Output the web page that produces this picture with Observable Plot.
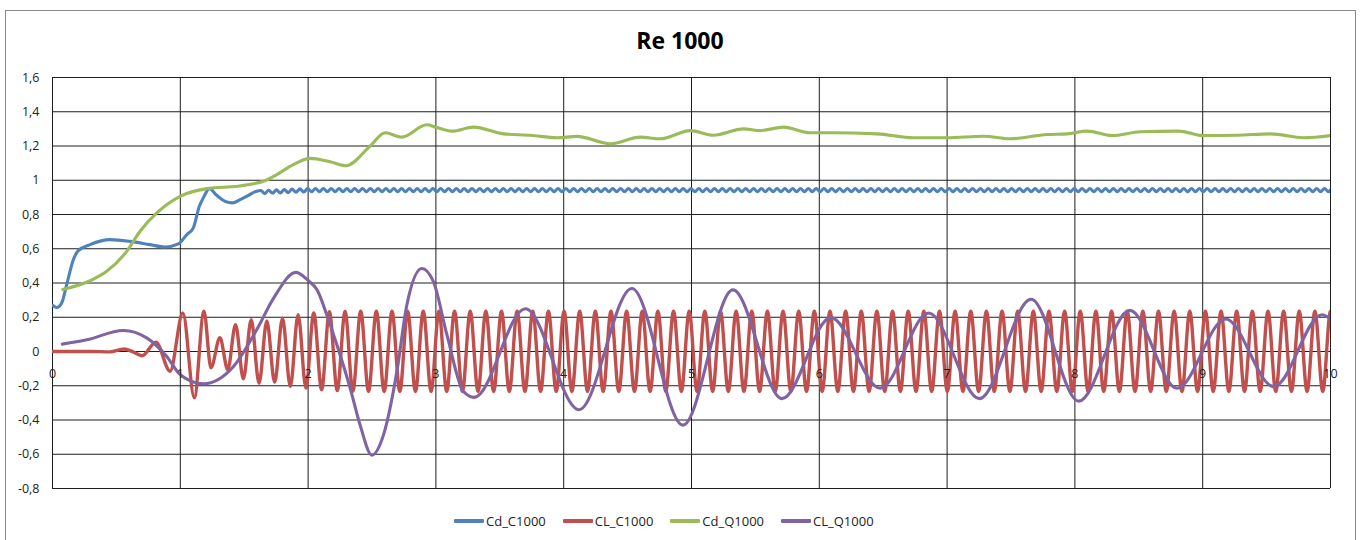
<!DOCTYPE html>
<html>
<head>
<meta charset="utf-8">
<script src="https://cdn.jsdelivr.net/npm/d3@7"></script>
<script src="https://cdn.jsdelivr.net/npm/@observablehq/plot@0.6"></script>
<style>
  body { margin: 0; background: #fff; }
  #chart { position: relative; width: 1360px; height: 540px; overflow: hidden; font-family: "Open Sans", sans-serif; }
  #frame { position: absolute; left: 5px; top: 10px; width: 1351px; height: 600px; border: 1px solid #8a8a8a; box-sizing: border-box; }
  #plot { position: absolute; left: 0; top: 0; }
  #title { position: absolute; left: 0; top: 24px; width: 1360px; text-align: center; font-weight: 700; font-size: 23px; line-height: 32px; color: #000; }
  #legend { position: absolute; left: 454px; top: 511px; display: flex; gap: 17px; font-size: 13px; line-height: 20px; color: #222; }
  .item { display: flex; align-items: center; gap: 2px; }
  .swatch { width: 30px; height: 3.5px; border-radius: 1px; }
</style>
</head>
<body>
<div id="chart">
  <div id="frame"></div>
  <div id="plot"></div>
  <div id="title">Re 1000</div>
  <div id="legend"></div>
</div>
<script>
// Series names and colours
const seriesNames = ["Cd_C1000", "CL_C1000", "Cd_Q1000", "CL_Q1000"];
const seriesColors = ["#4f81bd", "#c0504d", "#9bbb59", "#8064a2"];

// Axis ticks
const xTicks = [0, 1, 2, 3, 4, 5, 6, 7, 8, 9, 10];
const yTicks = [-0.8, -0.6, -0.4, -0.2, 0, 0.2, 0.4, 0.6, 0.8, 1, 1.2, 1.4, 1.6];

// Cd_C1000: start-up transient as [t, value] pairs
const cdC1000Start = [
  [0, 0.27], [0.033, 0.257], [0.072, 0.283], [0.111, 0.39], [0.163, 0.536], [0.202, 0.589],
  [0.294, 0.624], [0.45, 0.653], [0.607, 0.643], [0.763, 0.624], [0.881, 0.61], [0.985, 0.628],
  [1.05, 0.682], [1.102, 0.722], [1.149, 0.848], [1.18, 0.897], [1.228, 0.951], [1.285, 0.912],
  [1.35, 0.877], [1.41, 0.868], [1.468, 0.887], [1.533, 0.912], [1.598, 0.936]
];
// Cd_C1000: periodic part, extrema sampled every half cycle from t0
const cdC1000T0 = 1.63, cdC1000Dt = 0.0306;
const cdC1000Peaks = [
  0.94, 0.922, 0.942, 0.924, 0.944, 0.926, 0.945, 0.928, 0.948, 0.93, 0.95, 0.931, 0.952,
  0.933, 0.952, 0.933, 0.952, 0.933, 0.952, 0.933, 0.952, 0.933, 0.952, 0.933, 0.952, 0.933, 0.952, 0.933, 0.952, 0.933, 0.952, 0.933, 0.952,
  0.933, 0.952, 0.933, 0.952, 0.933, 0.952, 0.933, 0.952, 0.933, 0.952, 0.933, 0.952, 0.933, 0.952, 0.933, 0.952, 0.933, 0.952, 0.933, 0.952,
  0.933, 0.952, 0.933, 0.952, 0.933, 0.952, 0.933, 0.952, 0.933, 0.952, 0.933, 0.952, 0.933, 0.952, 0.933, 0.952, 0.933, 0.952, 0.933, 0.952,
  0.933, 0.952, 0.933, 0.952, 0.933, 0.952, 0.933, 0.952, 0.933, 0.952, 0.933, 0.952, 0.933, 0.952, 0.933, 0.952, 0.933, 0.952, 0.933, 0.952,
  0.933, 0.952, 0.933, 0.952, 0.933, 0.952, 0.933, 0.952, 0.933, 0.952, 0.933, 0.952, 0.933, 0.952, 0.933, 0.952, 0.933, 0.952, 0.933, 0.952,
  0.933, 0.952, 0.933, 0.952, 0.933, 0.952, 0.933, 0.952, 0.933, 0.952, 0.933, 0.952, 0.933, 0.952, 0.933, 0.952, 0.933, 0.952, 0.933, 0.952,
  0.933, 0.952, 0.933, 0.952, 0.933, 0.952, 0.933, 0.952, 0.933, 0.952, 0.933, 0.952, 0.933, 0.952, 0.933, 0.952, 0.933, 0.952, 0.933, 0.952,
  0.933, 0.952, 0.933, 0.952, 0.933, 0.952, 0.933, 0.952, 0.933, 0.952, 0.933, 0.952, 0.933, 0.952, 0.933, 0.952, 0.933, 0.952, 0.933, 0.952,
  0.933, 0.952, 0.933, 0.952, 0.933, 0.952, 0.933, 0.952, 0.933, 0.952, 0.933, 0.952, 0.933, 0.952, 0.933, 0.952, 0.933, 0.952, 0.933, 0.952,
  0.933, 0.952, 0.933, 0.952, 0.933, 0.952, 0.933, 0.952, 0.933, 0.952, 0.933, 0.952, 0.933, 0.952, 0.933, 0.952, 0.933, 0.952, 0.933, 0.952,
  0.933, 0.952, 0.933, 0.952, 0.933, 0.952, 0.933, 0.952, 0.933, 0.952, 0.933, 0.952, 0.933, 0.952, 0.933, 0.952, 0.933, 0.952, 0.933, 0.952,
  0.933, 0.952, 0.933, 0.952, 0.933, 0.952, 0.933, 0.952, 0.933, 0.952, 0.933, 0.952, 0.933, 0.952, 0.933, 0.952, 0.933, 0.952, 0.933, 0.952,
  0.933, 0.952, 0.933, 0.952, 0.933, 0.952, 0.933, 0.952, 0.933, 0.952, 0.933, 0.952, 0.933, 0.952, 0.933, 0.952, 0.933, 0.952, 0.933, 0.952,
  0.933, 0.952, 0.933, 0.952, 0.933, 0.952, 0.933, 0.952
];

// CL_C1000: start-up transient as [t, value] pairs
const clC1000Start = [
  [0, 0], [0.3, 0], [0.45, -0.002], [0.56, 0.015], [0.63, -0.002], [0.7, -0.025], [0.81, 0.055],
  [0.92, -0.115], [1.02, 0.225], [1.11, -0.27], [1.185, 0.235], [1.24, -0.095]
];
// CL_C1000: shedding cycle, extrema sampled every half cycle from t0
const clC1000T0 = 1.31, clC1000Dt = 0.0612;
const clC1000Peaks = [
  0.08, -0.105, 0.156, -0.16, 0.185, -0.185, 0.178, -0.18, 0.195, -0.205, 0.215, -0.214, 0.225, -0.224, 0.232, -0.228, 0.234, -0.232,
  0.236, -0.234, 0.236, -0.234, 0.236, -0.234, 0.236, -0.234, 0.236, -0.234, 0.236, -0.234, 0.236, -0.234, 0.236, -0.234, 0.236, -0.234, 0.236, -0.234,
  0.236, -0.234, 0.236, -0.234, 0.236, -0.234, 0.236, -0.234, 0.236, -0.234, 0.236, -0.234, 0.236, -0.234, 0.236, -0.234, 0.236, -0.234, 0.236, -0.234,
  0.236, -0.234, 0.236, -0.234, 0.236, -0.234, 0.236, -0.234, 0.236, -0.234, 0.236, -0.234, 0.236, -0.234, 0.236, -0.234, 0.236, -0.234, 0.236, -0.234,
  0.236, -0.234, 0.236, -0.234, 0.236, -0.234, 0.236, -0.234, 0.236, -0.234, 0.236, -0.234, 0.236, -0.234, 0.236, -0.234, 0.236, -0.234, 0.236, -0.234,
  0.236, -0.234, 0.236, -0.234, 0.236, -0.234, 0.236, -0.234, 0.236, -0.234, 0.236, -0.234, 0.236, -0.234, 0.236, -0.234, 0.236, -0.234, 0.236, -0.234,
  0.236, -0.234, 0.236, -0.234, 0.236, -0.234, 0.236, -0.234, 0.236, -0.234, 0.236, -0.234, 0.236, -0.234, 0.236, -0.234, 0.236, -0.234, 0.236, -0.234,
  0.236, -0.234, 0.236, -0.234, 0.236, -0.234, 0.236, -0.234, 0.236, -0.234, 0.236, -0.234, 0.236, -0.234, 0.236, -0.234
];

// Cd_Q1000 as [t, value] pairs
const cdQ1000 = [
  [0.08, 0.362], [0.294, 0.413], [0.424, 0.468], [0.581, 0.585], [0.685, 0.702], [0.816, 0.809],
  [0.998, 0.906], [1.207, 0.951], [1.45, 0.965], [1.572, 0.979], [1.65, 0.994], [1.755, 1.033],
  [1.88, 1.09], [2.016, 1.128], [2.172, 1.108], [2.295, 1.085], [2.485, 1.199], [2.603, 1.277],
  [2.733, 1.252], [2.929, 1.324], [3.0, 1.31], [3.125, 1.287], [3.294, 1.31], [3.529, 1.271],
  [3.738, 1.263], [3.947, 1.248], [4.103, 1.256], [4.364, 1.213], [4.599, 1.252], [4.755, 1.242],
  [4.99, 1.29], [5.173, 1.263], [5.408, 1.3], [5.538, 1.29], [5.72, 1.31], [5.93, 1.277],
  [6.086, 1.277], [6.452, 1.271], [6.738, 1.248], [7.0, 1.248], [7.286, 1.257], [7.495, 1.242],
  [7.782, 1.267], [7.94, 1.271], [8.095, 1.287], [8.291, 1.261], [8.513, 1.283], [8.813, 1.287],
  [9.0, 1.261], [9.27, 1.263], [9.53, 1.271], [9.79, 1.248], [10.0, 1.261]
];

// CL_Q1000 as [t, value] pairs
const clQ1000 = [
  [0.077, 0.043], [0.268, 0.068], [0.554, 0.123], [0.74, 0.078], [0.894, -0.029], [1.0, -0.136],
  [1.18, -0.189], [1.416, -0.088], [1.6, 0.13], [1.729, 0.31], [1.906, 0.462], [2.0, 0.415],
  [2.07, 0.36], [2.146, 0.215], [2.225, 0.039], [2.329, -0.214], [2.407, -0.429], [2.499, -0.605],
  [2.59, -0.487], [2.694, -0.12], [2.773, 0.273], [2.89, 0.485], [2.98, 0.409], [3.086, 0.098],
  [3.216, -0.234], [3.3, -0.268], [3.7, 0.25], [4.12, -0.34], [4.534, 0.368], [4.933, -0.43],
  [5.324, 0.36], [5.708, -0.275], [6.09, 0.198], [6.477, -0.215], [6.856, 0.225], [7.253, -0.275],
  [7.657, 0.305], [8.03, -0.29], [8.43, 0.24], [8.8, -0.215], [9.18, 0.19], [9.556, -0.205],
  [9.935, 0.215], [10.0, 0.19]
];

// Assemble point lists for the line marks
const pairs = (arr) => arr.map(([t, v]) => ({t, v}));
const sampled = (t0, dt, vals) => vals.map((v, i) => ({t: t0 + i * dt, v}));

const series = [
  pairs(cdC1000Start).concat(sampled(cdC1000T0, cdC1000Dt, cdC1000Peaks)),
  pairs(clC1000Start).concat(sampled(clC1000T0, clC1000Dt, clC1000Peaks)),
  pairs(cdQ1000),
  pairs(clQ1000)
];

const fmt = (v) => (Math.abs(v) < 1e-9 ? "0" : String(+v.toFixed(1)).replace(".", ","));

const chart = Plot.plot({
  width: 1360,
  height: 540,
  marginLeft: 52,
  marginRight: 30,
  marginTop: 77,
  marginBottom: 52,
  x: {domain: [0, 10], axis: null},
  y: {domain: [-0.8, 1.6], axis: null},
  style: {fontFamily: "'Open Sans', sans-serif", fontSize: "12.5px", color: "#222", background: "transparent"},
  marks: [
    Plot.ruleY(yTicks, {stroke: "#1e1e1e", strokeWidth: 1}),
    Plot.ruleX(xTicks, {stroke: "#1e1e1e", strokeWidth: 1}),
    ...series.map((data, i) =>
      Plot.line(data, {
        x: "t",
        y: "v",
        stroke: seriesColors[i],
        strokeWidth: i === 1 ? 3.4 : 3.1,
        curve: "monotone-x",
        clip: true
      })
    ),
    Plot.text(yTicks, {y: (d) => d, frameAnchor: "left", dx: -13, textAnchor: "end", text: fmt}),
    Plot.text(xTicks, {x: (d) => d, y: 0, dy: 22, text: (d) => String(d)})
  ]
});
document.getElementById("plot").appendChild(chart);

// Legend below the plot
const legend = document.getElementById("legend");
seriesNames.forEach((name, i) => {
  const item = document.createElement("div");
  item.className = "item";
  const sw = document.createElement("span");
  sw.className = "swatch";
  sw.style.background = seriesColors[i];
  const label = document.createElement("span");
  label.textContent = name;
  item.appendChild(sw);
  item.appendChild(label);
  legend.appendChild(item);
});
</script>
</body>
</html>
